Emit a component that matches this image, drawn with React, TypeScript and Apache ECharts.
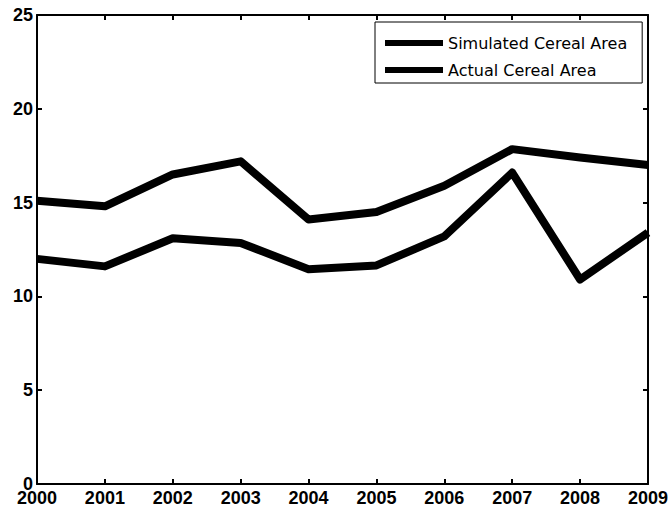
import React, { useEffect, useRef } from "react";
import * as echarts from "echarts";

const years = ["2000", "2001", "2002", "2003", "2004", "2005", "2006", "2007", "2008", "2009"];
const simulated = [15.1, 14.8, 16.5, 17.2, 14.1, 14.5, 15.9, 17.85, 17.4, 17.0];
const actual = [12.0, 11.6, 13.1, 12.85, 11.45, 11.65, 13.2, 16.6, 10.9, 13.4];
const seriesNames = ["Simulated Cereal Area", "Actual Cereal Area"];

export default function App() {
  const ref = useRef<HTMLDivElement>(null);
  useEffect(() => {
    if (!ref.current) return;
    const chart = echarts.init(ref.current, undefined, { renderer: "svg" });
    const axisLine = { show: true, onZero: false, lineStyle: { color: "#000", width: 2 } };
    const tick = { show: true, inside: true, length: 5, lineStyle: { color: "#000", width: 2 } };
    const labelFont = { color: "#000", fontSize: 18, fontWeight: "bold" as const, fontFamily: "Liberation Sans, Arial, sans-serif" };
    chart.setOption({
      animation: false,
      backgroundColor: "#fff",
      color: ["#000", "#000"],
      grid: { left: 37, right: 20, top: 15, bottom: 30, containLabel: false },
      legend: {
        data: seriesNames,
        orient: "vertical",
        left: 375,
        top: 22,
        icon: "rect",
        itemWidth: 58,
        itemHeight: 6,
        itemGap: 9,
        padding: [12, 15, 4, 10],
        borderColor: "#000",
        borderWidth: 1,
        backgroundColor: "#fff",
        textStyle: { color: "#000", fontSize: 16, lineHeight: 18, fontFamily: "DejaVu Sans, sans-serif" },
      },
      xAxis: [
        {
          type: "category",
          data: years,
          boundaryGap: false,
          position: "bottom",
          axisLine,
          axisTick: { ...tick, alignWithLabel: true },
          axisLabel: { ...labelFont, margin: 5, interval: 0 },
          splitLine: { show: false },
        },
        {
          type: "category",
          data: years,
          boundaryGap: false,
          position: "top",
          axisLine,
          axisTick: tick,
          axisLabel: { show: false },
          splitLine: { show: false },
        },
      ],
      yAxis: [
        {
          type: "value",
          min: 0,
          max: 25,
          interval: 5,
          position: "left",
          axisLine,
          axisTick: tick,
          axisLabel: { ...labelFont, margin: 4 },
          splitLine: { show: false },
        },
        {
          type: "value",
          min: 0,
          max: 25,
          interval: 5,
          position: "right",
          axisLine,
          axisTick: tick,
          axisLabel: { show: false },
          splitLine: { show: false },
        },
      ],
      series: [
        {
          name: seriesNames[0],
          type: "line",
          data: simulated,
          showSymbol: false,
          symbol: "none",
          lineStyle: { color: "#000", width: 8, join: "round" },
          itemStyle: { color: "#000" },
        },
        {
          name: seriesNames[1],
          type: "line",
          data: actual,
          showSymbol: false,
          symbol: "none",
          lineStyle: { color: "#000", width: 8, join: "round" },
          itemStyle: { color: "#000" },
        },
      ],
    });
    return () => chart.dispose();
  }, []);
  return <div ref={ref} style={{ width: 671, height: 514, position: "absolute", left: 0, top: 0 }} />;
}
